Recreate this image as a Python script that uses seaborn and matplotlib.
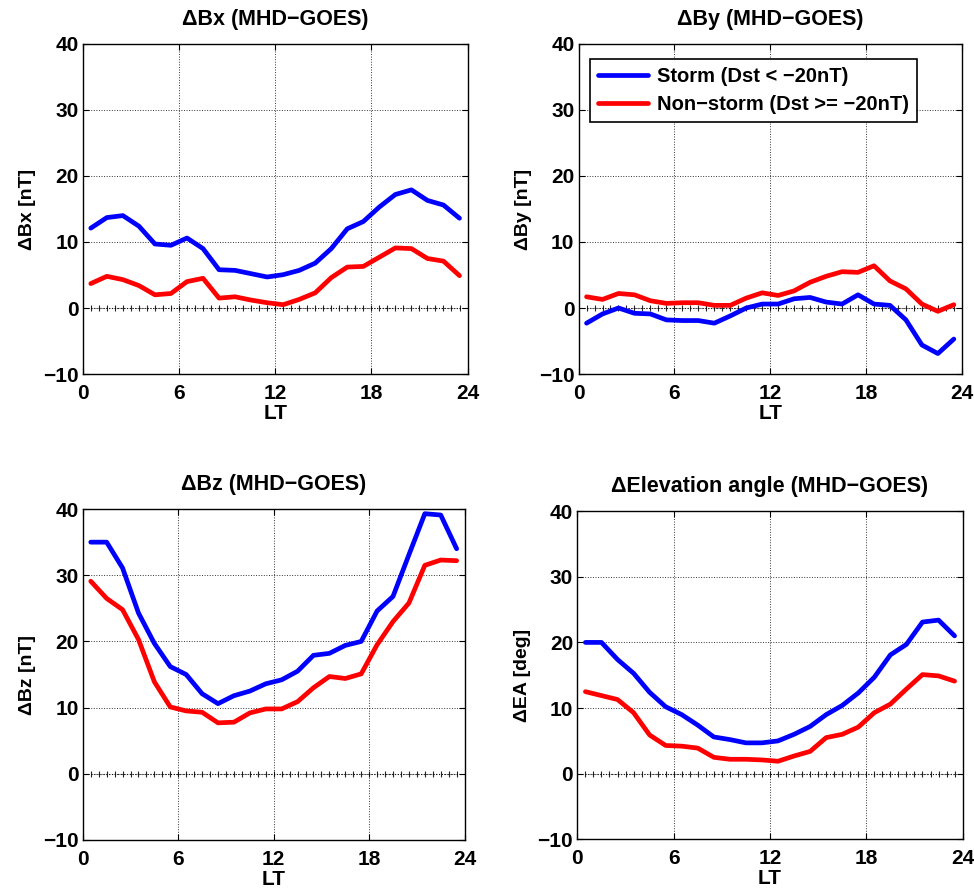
import numpy as np
import pandas as pd
import seaborn as sns
from matplotlib import pyplot as plt

# local time bins (hour centres)
lt = np.arange(0.5, 24, 1.0)

bx_storm = [12.1, 13.7, 14.0, 12.4, 9.7, 9.5, 10.6, 9.0, 5.8, 5.7, 5.2, 4.7,
            5.05, 5.7, 6.8, 9.0, 12.0, 13.1, 15.3, 17.2, 17.9, 16.3, 15.6, 13.6]
bx_quiet = [3.7, 4.8, 4.3, 3.4, 2.0, 2.2, 4.0, 4.5, 1.5, 1.7, 1.2, 0.8,
            0.5, 1.3, 2.3, 4.6, 6.2, 6.3, 7.7, 9.1, 9.0, 7.5, 7.1, 4.9]

by_storm = [-2.3, -0.9, 0.0, -0.8, -0.9, -1.8, -1.9, -1.9, -2.3, -1.2, 0.0, 0.6,
            0.6, 1.4, 1.6, 0.9, 0.6, 2.0, 0.6, 0.4, -1.8, -5.6, -6.9, -4.7]
by_quiet = [1.7, 1.3, 2.2, 2.0, 1.1, 0.7, 0.8, 0.8, 0.4, 0.4, 1.5, 2.3,
            1.9, 2.6, 3.9, 4.8, 5.5, 5.4, 6.4, 4.1, 2.9, 0.6, -0.5, 0.5]

bz_storm = [35.0, 35.0, 31.1, 24.3, 19.7, 16.2, 15.0, 12.1, 10.6, 11.8, 12.5, 13.6,
            14.2, 15.5, 17.9, 18.2, 19.4, 20.0, 24.6, 26.8, 33.1, 39.3, 39.1, 34.0]
bz_quiet = [29.1, 26.5, 24.8, 20.3, 13.9, 10.1, 9.5, 9.3, 7.7, 7.8, 9.2, 9.8,
            9.8, 10.9, 13.0, 14.7, 14.4, 15.1, 19.5, 23.0, 25.8, 31.5, 32.3, 32.2]

ea_storm = [20.0, 20.0, 17.4, 15.3, 12.4, 10.2, 9.0, 7.4, 5.6, 5.2, 4.7, 4.7,
            5.0, 6.0, 7.2, 9.0, 10.4, 12.3, 14.7, 18.1, 19.7, 23.1, 23.4, 21.0]
ea_quiet = [12.5, 11.9, 11.3, 9.3, 5.9, 4.3, 4.2, 3.9, 2.5, 2.2, 2.2, 2.1,
            1.9, 2.7, 3.4, 5.5, 6.0, 7.1, 9.3, 10.6, 12.9, 15.1, 14.9, 14.1]

storm_lbl = "Storm (Dst < \u221220nT)"
quiet_lbl = "Non\u2212storm (Dst >= \u221220nT)"

titles = ["\u0394Bx (MHD\u2212GOES)", "\u0394By (MHD\u2212GOES)",
          "\u0394Bz (MHD\u2212GOES)", "\u0394Elevation angle (MHD\u2212GOES)"]
ylabels = ["\u0394Bx [nT]", "\u0394By [nT]", "\u0394Bz [nT]", "\u0394EA [deg]"]
series = [(bx_storm, bx_quiet), (by_storm, by_quiet),
          (bz_storm, bz_quiet), (ea_storm, ea_quiet)]

sns.set_style("ticks")
plt.rcParams["font.family"] = ["Liberation Sans", "DejaVu Sans"]
plt.rcParams["font.weight"] = "bold"
plt.rcParams["axes.unicode_minus"] = True
for key in ["text.color", "axes.labelcolor", "xtick.color", "ytick.color",
            "axes.edgecolor"]:
    plt.rcParams[key] = "black"

fig = plt.figure(figsize=(9.74, 8.92), dpi=100)
positions = [
    [0.0850, 0.5807, 0.3950, 0.3700],
    [0.5940, 0.5807, 0.3935, 0.3700],
    [0.0850, 0.0583, 0.3920, 0.3710],
    [0.5928, 0.0590, 0.3955, 0.3680],
]

palette = {storm_lbl: "#0000ff", quiet_lbl: "#ff0000"}
zero_x = np.arange(0.5, 23.51, 0.5)

for i, (pos, (s, q)) in enumerate(zip(positions, series)):
    ax = fig.add_axes(pos)
    df = pd.DataFrame({
        "LT": np.concatenate([lt, lt]),
        "val": np.concatenate([s, q]),
        "case": [storm_lbl] * len(lt) + [quiet_lbl] * len(lt),
    })
    # zero reference line with half-hour ticks
    ax.plot(zero_x, np.zeros_like(zero_x), color="k", linestyle=":",
            linewidth=0.8, marker="|", markersize=5, markeredgewidth=0.8,
            alpha=0.85, zorder=1)
    sns.lineplot(data=df, x="LT", y="val", hue="case", palette=palette,
                 linewidth=3.4, ax=ax, legend=(i == 1), zorder=3)
    ax.set_xlim(0, 24)
    ax.set_ylim(-10, 40)
    ax.set_xticks([0, 6, 12, 18, 24])
    ax.set_yticks([-10, 0, 10, 20, 30, 40])
    ax.grid(True, color="k", linestyle=":", linewidth=0.7, alpha=0.8)
    ax.tick_params(direction="in", length=4, width=0.8, top=True, right=True,
                   labelsize=15, pad=3)
    ax.tick_params(axis="x", pad=7)
    for lab in ax.get_xticklabels() + ax.get_yticklabels():
        lab.set_fontweight("bold")
    for sp in ax.spines.values():
        sp.set_linewidth(1.0)
        sp.set_color("k")
    ax.set_title(titles[i], fontsize=15.5, fontweight="bold", pad=14)
    ax.set_xlabel("LT", fontsize=15, fontweight="bold", labelpad=1)
    ax.set_ylabel(ylabels[i], fontsize=14, fontweight="bold", labelpad=5)
    if i == 1:
        leg = ax.legend(loc="upper left", bbox_to_anchor=(0.03, 0.955),
                        fontsize=14.5, frameon=True, fancybox=False,
                        handlelength=2.5, borderpad=0.4, labelspacing=0.45,
                        handletextpad=0.4, borderaxespad=0)
        leg.get_frame().set_edgecolor("k")
        leg.get_frame().set_linewidth(1.2)
        leg.get_frame().set_alpha(1)
        for t in leg.get_texts():
            t.set_fontweight("bold")

fig.savefig("out.png", dpi=100)
